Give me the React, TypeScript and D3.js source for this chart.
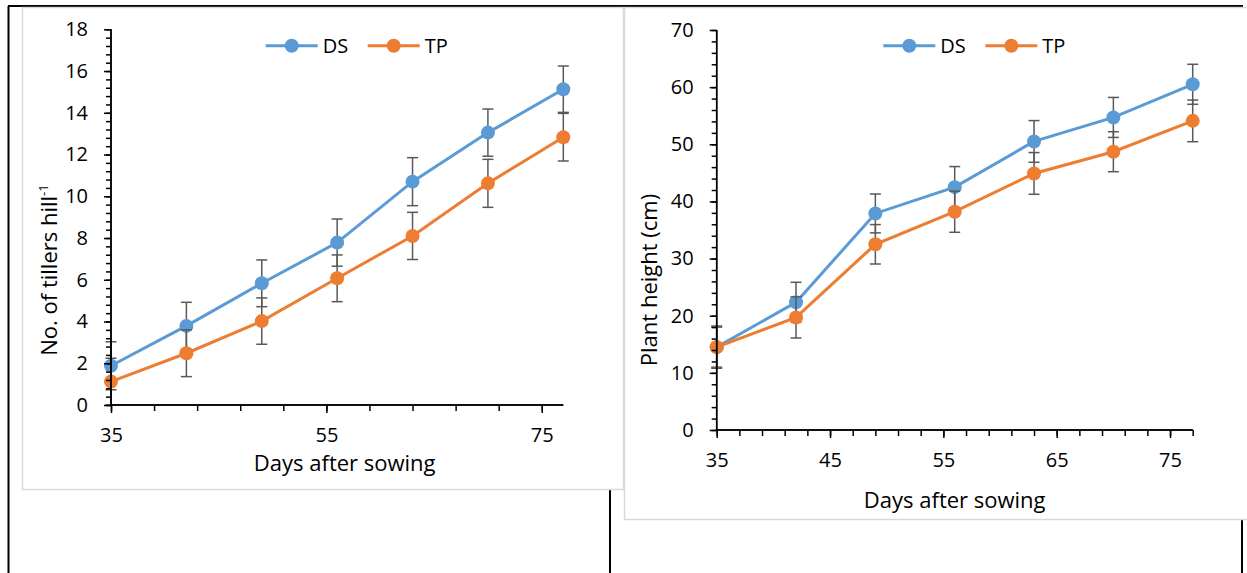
import React, { useEffect, useRef } from 'react';
import * as d3 from 'd3';

// days after sowing, shared by both panels
const days = [35, 42, 49, 56, 63, 70, 77];

// left panel: tillers per hill
const tillersDS = [1.88, 3.79, 5.83, 7.78, 10.7, 13.05, 15.13];
const tillersDSErr = [1.15, 1.13, 1.12, 1.13, 1.15, 1.13, 1.11];
const tillersTP = [1.12, 2.48, 4.02, 6.07, 8.1, 10.62, 12.83];
const tillersTPErr = [1.12, 1.12, 1.11, 1.12, 1.13, 1.15, 1.14];

// right panel: plant height (cm)
const heightDS = [14.5, 22.35, 37.9, 42.5, 50.5, 54.7, 60.5];
const heightDSErr = [3.7, 3.5, 3.4, 3.6, 3.65, 3.5, 3.5];
const heightTP = [14.5, 19.7, 32.5, 38.2, 44.9, 48.7, 54.1];
const heightTPErr = [3.5, 3.6, 3.45, 3.6, 3.65, 3.5, 3.65];

const leftYTicks = [0, 2, 4, 6, 8, 10, 12, 14, 16, 18];
const leftXTicks = [35, 55, 75];
const rightYTicks = [0, 10, 20, 30, 40, 50, 60, 70];
const rightXTicks = [35, 45, 55, 65, 75];

const DS_COLOR = '#5B9BD5';
const TP_COLOR = '#ED7D31';
const ERR_COLOR = '#595959';
const FONT = '"Open Sans", "Noto Sans", sans-serif';

interface SeriesDef {
  name: string;
  color: string;
  values: number[];
  errs: number[];
}

interface PanelProps {
  xRange: [number, number];
  yRange: [number, number];
  yMax: number;
  yMajor: number[];
  yMinorStep: number;
  xMajor: number[];
  xMinorStep: number;
  series: SeriesDef[];
  legendX: number;
}

const Panel = ({ xRange, yRange, yMax, yMajor, yMinorStep, xMajor, xMinorStep, series, legendX }: PanelProps): JSX.Element => {
  const axisLeftRef = useRef(null);
  const axisBottomRef = useRef(null);

  const xScale = d3.scaleLinear().domain([35, 77]).range(xRange);
  const yScale = d3.scaleLinear().domain([0, yMax]).range(yRange);

  useEffect(() => {
    const leftEl = d3.select(axisLeftRef.current);
    const bottomEl = d3.select(axisBottomRef.current);
    leftEl.selectAll('*').remove();
    bottomEl.selectAll('*').remove();

    const yMinor = d3.range(0, yMax + 1e-6, yMinorStep);
    const xMinor = d3.range(35, 77 + 1e-6, xMinorStep);

    // minor ticks first, no labels
    leftEl.append('g').call(d3.axisLeft(yScale).tickValues(yMinor).tickSize(5).tickFormat(() => ''));
    leftEl.append('g').call(d3.axisLeft(yScale).tickValues(yMajor).tickSize(7).tickPadding(16).tickFormat(d3.format('d')));
    bottomEl.append('g').call(d3.axisBottom(xScale).tickValues(xMinor).tickSize(6).tickFormat(() => ''));
    bottomEl.append('g').call(d3.axisBottom(xScale).tickValues(xMajor).tickSize(8).tickPadding(15).tickFormat(d3.format('d')));

    [leftEl, bottomEl].forEach((el) => {
      el.selectAll('.domain').attr('stroke', '#000').attr('stroke-width', 1.5);
      el.selectAll('.tick line').attr('stroke', '#000').attr('stroke-width', 1.5);
      el.selectAll('.tick text').attr('fill', '#000').style('font-family', FONT).style('font-size', '20px');
    });
    // plain axis lines, no outer tick stubs
    leftEl.selectAll('.domain').attr('d', `M0,${yRange[0]}V${yRange[1]}`);
    bottomEl.selectAll('.domain').attr('d', `M${xRange[0]},0H${xRange[1]}`);
  }, [xScale, yScale]);

  const line = d3
    .line<number>()
    .x((_, i) => xScale(days[i]))
    .y((d) => yScale(d));

  const cap = 5.5;

  return (
    <g>
      {series.map((s) => (
        <g key={s.name}>
          {s.values.map((v, i) => {
            const x = xScale(days[i]);
            const y0 = yScale(Math.max(0, v - s.errs[i]));
            const y1 = yScale(v + s.errs[i]);
            return (
              <g key={i} stroke={ERR_COLOR} strokeWidth={1.5}>
                <line x1={x} x2={x} y1={y0} y2={y1} />
                <line x1={x - cap} x2={x + cap} y1={y0} y2={y0} />
                <line x1={x - cap} x2={x + cap} y1={y1} y2={y1} />
              </g>
            );
          })}
          <path d={line(s.values) || ''} fill="none" stroke={s.color} strokeWidth={3} />
          {s.values.map((v, i) => (
            <circle key={i} cx={xScale(days[i])} cy={yScale(v)} r={7} fill={s.color} />
          ))}
        </g>
      ))}
      <g ref={axisLeftRef} transform={`translate(${xRange[0]},0)`} />
      <g ref={axisBottomRef} transform={`translate(0,${yRange[0]})`} />
      {series.map((s, k) => {
        const lx = legendX + k * 102;
        return (
          <g key={s.name}>
            <line x1={lx} x2={lx + 52} y1={45.7} y2={45.7} stroke={s.color} strokeWidth={3} />
            <circle cx={lx + 26} cy={45.7} r={7} fill={s.color} />
            <text x={lx + 57} y={52.7} fontFamily={FONT} fontSize={20} fill="#000">
              {s.name}
            </text>
          </g>
        );
      })}
    </g>
  );
};

export default function App(): JSX.Element {
  return (
    <svg width={1247} height={573} style={{ position: 'absolute', left: 0, top: 0, background: '#fff' }}>
      {/* table frame behind the charts */}
      <g stroke="#000" strokeWidth={2}>
        <line x1={8} x2={1243} y1={6} y2={6} />
        <line x1={8.5} x2={8.5} y1={6} y2={573} />
        <line x1={610} x2={610} y1={6} y2={573} />
        <line x1={1242} x2={1242} y1={6} y2={573} />
      </g>
      <rect x={22.5} y={7.5} width={601} height={482} fill="#fff" stroke="#d9d9d9" strokeWidth={1.5} />
      <rect x={624.5} y={7.5} width={640} height={512} fill="#fff" stroke="#d9d9d9" strokeWidth={1.5} />

      <Panel
        xRange={[111, 563.3]}
        yRange={[405, 29.3]}
        yMax={18}
        yMajor={leftYTicks}
        yMinorStep={0.4}
        xMajor={leftXTicks}
        xMinorStep={4}
        series={[
          { name: 'DS', color: DS_COLOR, values: tillersDS, errs: tillersDSErr },
          { name: 'TP', color: TP_COLOR, values: tillersTP, errs: tillersTPErr }
        ]}
        legendX={265.7}
      />
      <text transform="translate(57,270) rotate(-90)" textAnchor="middle" fontFamily={FONT} fontSize={22} fill="#000">
        No. of tillers hill
        <tspan fontSize={13} dy={-9}>
          -1
        </tspan>
      </text>
      <text x={344.7} y={471} textAnchor="middle" fontFamily={FONT} fontSize={22} fill="#000">
        Days after sowing
      </text>

      <Panel
        xRange={[716.7, 1192.7]}
        yRange={[430, 30]}
        yMax={70}
        yMajor={rightYTicks}
        yMinorStep={2}
        xMajor={rightXTicks}
        xMinorStep={2}
        series={[
          { name: 'DS', color: DS_COLOR, values: heightDS, errs: heightDSErr },
          { name: 'TP', color: TP_COLOR, values: heightTP, errs: heightTPErr }
        ]}
        legendX={883.3}
      />
      <text transform="translate(657,280) rotate(-90)" textAnchor="middle" fontFamily={FONT} fontSize={22} fill="#000">
        Plant height (cm)
      </text>
      <text x={954.7} y={508} textAnchor="middle" fontFamily={FONT} fontSize={22} fill="#000">
        Days after sowing
      </text>
    </svg>
  );
}
